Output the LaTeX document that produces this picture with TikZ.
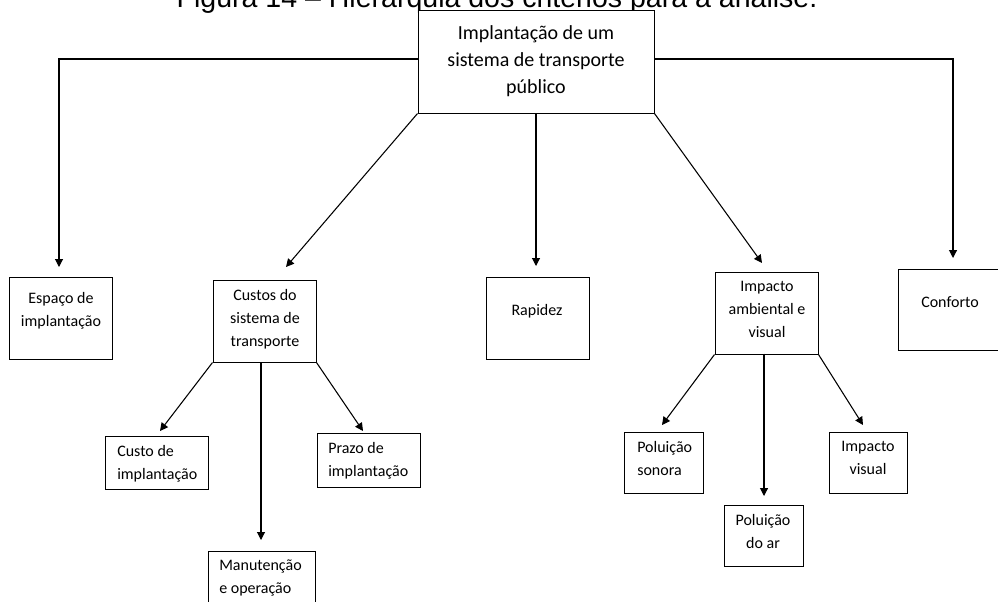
\documentclass[tikz,border=0pt]{standalone}
\usepackage{fontspec}
\setmainfont{Carlito}
\newfontfamily\titlefont{Liberation Sans}
\usetikzlibrary{arrows.meta}
\tikzset{
  box/.style={draw=black, line width=0.75pt, fill=white, inner sep=0pt},
  txt/.style={inner sep=0pt, font=\fontsize{12}{17.25}\selectfont, align=center, anchor=north},
  txtl/.style={txt, align=left, anchor=north west},
  conn/.style={line width=0.8pt, -{Triangle[length=6pt,width=6pt]}},
  plainline/.style={line width=0.8pt},
}
\newcommand\bx[5]{\node[box, minimum width={(#4-#2)*0.75pt}, minimum height={(#5-#3)*0.75pt}] (#1) at ({(#2+#4)/2},{(#3+#5)/2}) {};}
\begin{document}
\begin{tikzpicture}[x=0.75pt,y=-0.75pt]
\useasboundingbox (0,0) rectangle (998,601);
\clip (0,0) rectangle (998,601);
% title (cut at the top)
\node[inner sep=0pt, anchor=base, font=\titlefont\fontsize{21.4}{25}\selectfont] (title) at (497,7) {Figura 14 – Hierarquia dos critérios para a análise.};
% boxes
\bx{main}{418}{10}{654}{113}
\bx{esp}{9}{277}{112}{359}
\bx{cus}{213}{280}{316}{362}
\bx{rap}{486}{277}{589}{359}
\bx{imp}{715}{272}{818}{354}
\bx{con}{898}{269}{1001}{350}
\bx{cimp}{105}{436}{208}{489}
\bx{prazo}{317}{433}{420}{487}
\bx{man}{208}{551}{315}{633}
\bx{pson}{624}{432}{703}{493}
\bx{par}{724}{505}{803}{566}
\bx{ivis}{829}{432}{907}{493}
% arrow tips
\coordinate (lc) at (59,59);
\coordinate (rc) at (953,59);
\coordinate (espTip) at (59,267);
\coordinate (conTip) at (953,258);
\coordinate (cusTip) at (286,267);
\coordinate (rapTip) at (536,266);
\coordinate (impTip) at (762,263);
\coordinate (cimpTip) at (160,431);
\coordinate (manTip) at (261,540);
\coordinate (prazoTip) at (363,431);
\coordinate (psonTip) at (662,425);
\coordinate (parTip) at (764,496);
\coordinate (ivisTip) at (863,425);
% connectors
\draw[conn] (main.west |- lc) -- (lc) -- (espTip);
\draw[conn] (main.east |- rc) -- (rc) -- (conTip);
\draw[conn] (main.south west) -- (cusTip);
\draw[conn] (main.south) -- (rapTip);
\draw[conn] (main.south east) -- (impTip);
\draw[conn] (cus.south west) -- (cimpTip);
\draw[conn] (manTip |- cus.south) -- (manTip);
\draw[conn] (cus.south east) -- (prazoTip);
\draw[conn] (imp.south west) -- (psonTip);
\draw[conn] ([yshift=0.75pt]parTip |- imp.south) -- (parTip);
\draw[conn] (imp.south east) -- (ivisTip);
% texts
\node[txt, font=\fontsize{15}{20.25}\selectfont] (tmain) at (536,25) {Implantação de um\\sistema de transporte\\público};
\node[txt] (tesp) at (61,292) {Espaço de\\implantação};
\node[txt] (tcus) at (265,289) {Custos do\\sistema de\\transporte};
\node[txt] (trap) at (537,304) {Rapidez};
\node[txt] (timp) at (767,281) {Impacto\\ambiental e\\visual};
\node[txt] (tcon) at (950,296) {Conforto};
\node[txtl] (tcimp) at (117,445) {Custo de\\implantação};
\node[txtl] (tprazo) at (328,442) {Prazo de\\implantação};
\node[txtl] (tman) at (219,560) {Manutenção\\e operação};
\node[txtl] (tpson) at (637,441) {Poluição\\sonora};
\node[txt] (tpar) at (763,514) {Poluição\\do ar};
\node[txt] (tivis) at (868,441) {Impacto\\visual};
\end{tikzpicture}
\end{document}
